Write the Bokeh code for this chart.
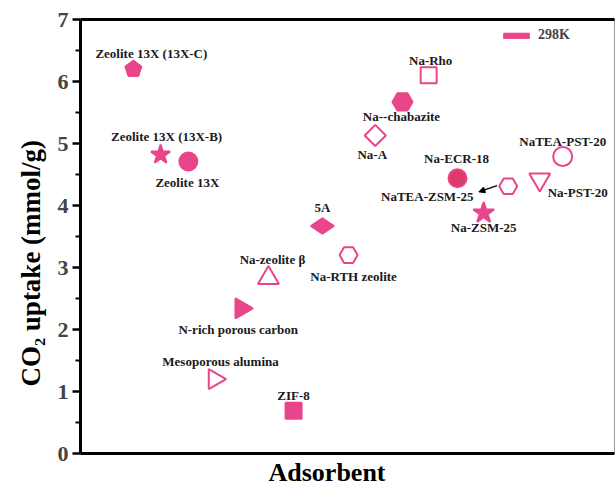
from bokeh.plotting import figure
from bokeh.models import (Range1d, FixedTicker, LinearAxis, Arrow, NormalHead,
                          Legend, LegendItem, ColumnDataSource, Title)
from bokeh.core.properties import value
from bokeh.embed import file_html
from bokeh.resources import INLINE

# ---------------- data ----------------
adsorbents = ["Zeolite 13X (13X-C)", "Zeolite 13X (13X-B)", "Zeolite 13X",
              "Na-zeolite \u03b2", "N-rich porous carbon", "Mesoporous alumina",
              "ZIF-8", "5A", "Na-RTH zeolite", "Na-A", "Na--chabazite", "Na-Rho",
              "Na-ECR-18", "Na-ZSM-25", "NaTEA-ZSM-25", "Na-PST-20", "NaTEA-PST-20"]
x_pos = [0.99, 1.50, 2.02, 3.52, 3.01, 2.51, 3.99, 4.53, 5.02, 5.52, 6.03, 6.52,
         7.06, 7.55, 8.01, 8.60, 9.03]
co2_uptake = [6.20, 4.82, 4.71, 2.83, 2.34, 1.20, 0.69, 3.67, 3.20, 5.13, 5.67,
              6.10, 4.44, 3.88, 4.31, 4.42, 4.79]
y_ticks = [0, 1, 2, 3, 4, 5, 6, 7]
legend_label = "298K"
x_title = "Adsorbent"
y_title = "CO\u2082 uptake (mmol/g)"
nan = float("nan")

# ---------------- styles ----------------
PINK = "#E9458A"
FONT = "Liberation Serif"
marker_kind = ["pentagon", "star", "circle", "triangle", "triangle", "triangle",
               "square", "diamond", "hex", "square", "hex", "square", "circle",
               "star", "hex", "inverted_triangle", "circle"]
filled = [True, True, True, False, True, False, True, True, False, False, True,
          False, True, True, False, False, False]
marker_angle = [0, 0, 0, 0, -90, -90, 0, 90, 0, 45, 0, 0, 0, 0, 0, 0, 0]
marker_size = [18, 20, 18, 21, 20, 20, 16, 23, 18, 15, 20, 16, 18, 22, 18, 21, 19]
label_dx = [18, 6, -1, 4, -3, 6, 0, 0, 5, -3, -1, 2, -1, 0, -81, 38, 0]
label_dy = [-16, -18, 21, -19, 21, -18, -15, -18, 21, 19, 15, -15, -20, 15, 10, 13, -15]

p = figure(width=616, height=488, output_backend="svg", toolbar_location=None,
           x_range=Range1d(0, 10), y_range=Range1d(0, 7),
           min_border_left=80, min_border_right=2, min_border_top=19,
           min_border_bottom=32)
p.grid.visible = False
p.outline_line_color = "#9a9a9a"
p.outline_line_width = 1
p.background_fill_color = "white"
p.border_fill_color = "white"

# y axis
ya = p.yaxis[0]
ya.ticker = FixedTicker(ticks=y_ticks, minor_ticks=[t + 0.5 for t in y_ticks[:-1]])
ya.axis_line_width = 3
ya.major_tick_line_width = 2.5
ya.minor_tick_line_width = 2
ya.major_tick_in = 0
ya.major_tick_out = 8
ya.minor_tick_in = 0
ya.minor_tick_out = 5
ya.major_label_text_font = FONT
ya.major_label_text_font_style = "bold"
ya.major_label_text_font_size = "22px"
ya.major_label_standoff = 4

# y axis title (left, slightly below centre as in the reference)
p.add_layout(Title(text=y_title, align="left", offset=67, text_font=FONT,
                   text_font_style="bold", text_font_size="27px", standoff=18,
                   text_line_height=0.9, text_color="black"), "left")

# x axis (line only)
xa = p.xaxis[0]
xa.ticker = FixedTicker(ticks=[])
xa.axis_line_width = 3
xa.major_tick_line_color = None
xa.minor_tick_line_color = None
xa.major_label_text_font_size = "0px"

# x axis title below
p.add_layout(Title(text=x_title, align="left", offset=188, text_font=FONT,
                   text_font_style="bold", text_font_size="26px", standoff=4,
                   text_line_height=0.9, text_color="black"), "below")

# thick top border
top = LinearAxis(ticker=FixedTicker(ticks=[]), axis_line_width=3,
                 major_tick_line_color=None, minor_tick_line_color=None,
                 major_label_text_font_size="0px")
p.add_layout(top, "above")

# ---------------- markers ----------------
pent_x, pent_y = [], []
src = dict(x=[], y=[], marker=[], fill=[], angle=[], size=[])
for i, name in enumerate(adsorbents):
    if marker_kind[i] == "pentagon":
        pent_x.append(x_pos[i]); pent_y.append(co2_uptake[i])
        continue
    src["x"].append(x_pos[i]); src["y"].append(co2_uptake[i])
    src["marker"].append(marker_kind[i])
    fc = PINK if filled[i] else "white"
    if name == "Na-ECR-18":
        fc = "#DC3A6A"
    src["fill"].append(fc)
    src["angle"].append(marker_angle[i])
    src["size"].append(marker_size[i])
src = ColumnDataSource(src)
p.scatter(x="x", y="y", marker="marker", size="size", angle="angle",
          angle_units="deg", fill_color="fill", line_color=PINK, line_width=2,
          source=src)
try:
    p.ngon(x=pent_x, y=pent_y, radius=9, radius_units="screen", n=5,
           fill_color=PINK, line_color=PINK, line_width=1)
except Exception:
    p.scatter(x=pent_x, y=pent_y, marker="hex", size=18, fill_color=PINK,
              line_color=PINK)

# labels
p.text(x=x_pos, y=co2_uptake, text=adsorbents, x_offset=label_dx, y_offset=label_dy,
       text_align="center", text_baseline="middle", text_font=value(FONT),
       text_font_style="bold", text_font_size="13px", text_color="#1a1a1a")

# arrow for NaTEA-ZSM-25
k = adsorbents.index("NaTEA-ZSM-25")
p.add_layout(Arrow(end=NormalHead(size=6, fill_color="black", line_color="black"),
                   x_start=x_pos[k] - 0.21, y_start=co2_uptake[k] + 0.01,
                   x_end=x_pos[k] - 0.55, y_end=co2_uptake[k] - 0.09,
                   line_width=1.3, line_color="black"))

# legend (glyph-only renderer that draws nothing in the plot area)
leg_r = p.quad(left=[nan], right=[nan], top=[nan], bottom=[nan],
               fill_color=PINK, line_color=PINK)
legend = Legend(items=[LegendItem(label=legend_label, renderers=[leg_r])],
                location=(420, 410), glyph_width=32, glyph_height=7,
                label_text_font=FONT, label_text_font_style="bold",
                label_text_font_size="14px", border_line_color=None,
                background_fill_alpha=0, padding=0, margin=0, label_standoff=6,
                label_height=14)
p.add_layout(legend)

open("out.html", "w").write(file_html(p, INLINE))
